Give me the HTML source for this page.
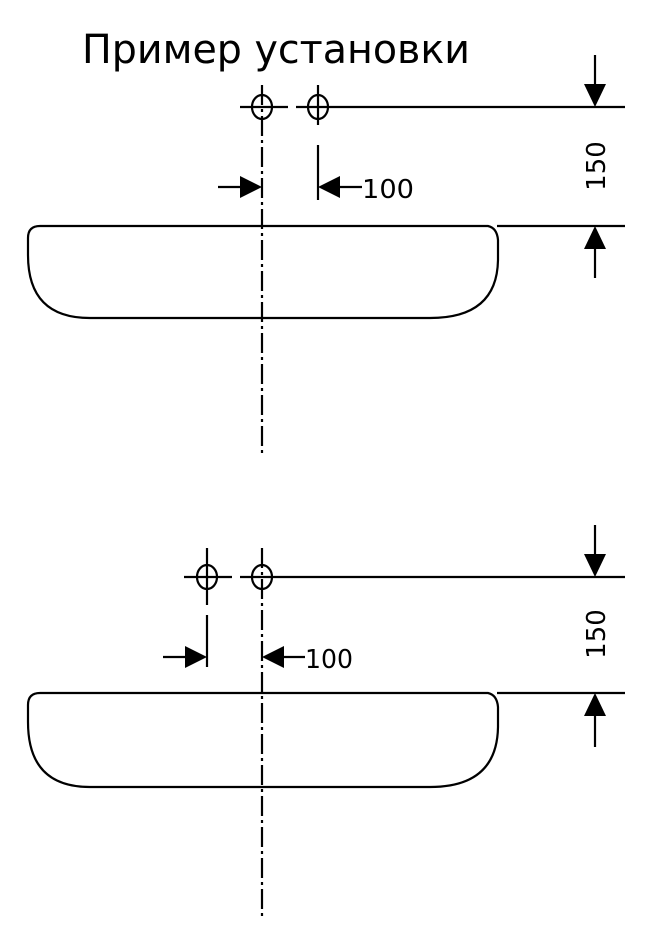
<!DOCTYPE html>
<html><head><meta charset="utf-8"><style>
html,body{margin:0;padding:0;background:#fff;}
svg{display:block;}
</style></head><body>
<svg width="647" height="950" viewBox="0 0 647 950" xmlns="http://www.w3.org/2000/svg">
<text x="82" y="63" font-family="'DejaVu Sans','Liberation Sans',sans-serif" font-size="40" textLength="388" lengthAdjust="spacingAndGlyphs" fill="#000">Пример установки</text>
<g stroke="#000" stroke-width="2.2" fill="none">
<!-- top set -->
<ellipse cx="262" cy="107" rx="10" ry="12"/>
<ellipse cx="318" cy="107" rx="10" ry="12"/>
<line x1="240" y1="107" x2="288" y2="107"/>
<line x1="296" y1="107" x2="625" y2="107"/>
<line x1="262" y1="85" x2="262" y2="455" stroke-dasharray="20,4,3,4"/>
<line x1="318" y1="85" x2="318" y2="125"/>
<line x1="318" y1="145" x2="318" y2="200"/>
<line x1="218" y1="187" x2="250" y2="187"/>
<line x1="330" y1="187" x2="362" y2="187"/>
<line x1="595" y1="55" x2="595" y2="95"/>
<line x1="497" y1="226" x2="625" y2="226"/>
<line x1="595" y1="238" x2="595" y2="278"/>
<path d="M40 226 L488 226 Q497 228 498 240 L498 260 Q497 318 430 318 L90 318 Q28 318 28 255 L28 238 Q28 226 40 226 Z"/>
<!-- bottom set -->
<ellipse cx="207" cy="577" rx="10" ry="12"/>
<ellipse cx="262" cy="577" rx="10" ry="12"/>
<line x1="184" y1="577" x2="232" y2="577"/>
<line x1="240" y1="577" x2="625" y2="577"/>
<line x1="262" y1="548" x2="262" y2="920" stroke-dasharray="20,4,3,4"/>
<line x1="207" y1="548" x2="207" y2="605"/>
<line x1="207" y1="615" x2="207" y2="667"/>
<line x1="163" y1="657" x2="195" y2="657"/>
<line x1="274" y1="657" x2="305" y2="657"/>
<line x1="595" y1="525" x2="595" y2="565"/>
<line x1="497" y1="693" x2="625" y2="693"/>
<line x1="595" y1="705" x2="595" y2="747"/>
<path d="M40 693 L488 693 Q497 695 498 707 L498 727 Q497 787 430 787 L90 787 Q28 787 28 722 L28 705 Q28 693 40 693 Z"/>
</g>
<g fill="#000">
<polygon points="262,187 240,176 240,198"/>
<polygon points="318,187 340,176 340,198"/>
<polygon points="595,107 584,84 606,84"/>
<polygon points="595,226 584,249 606,249"/>
<polygon points="207,657 185,646 185,668"/>
<polygon points="262,657 284,646 284,668"/>
<polygon points="595,577 584,554 606,554"/>
<polygon points="595,693 584,716 606,716"/>
</g>
<g font-family="'DejaVu Sans','Liberation Sans',sans-serif" font-size="26" fill="#000">
<text x="362" y="198" textLength="52" lengthAdjust="spacingAndGlyphs">100</text>
<text x="305" y="668" textLength="48" lengthAdjust="spacingAndGlyphs">100</text>
<text transform="translate(605,166) rotate(-90)" text-anchor="middle">150</text>
<text transform="translate(605,634) rotate(-90)" text-anchor="middle">150</text>
</g>
</svg>
</body></html>
